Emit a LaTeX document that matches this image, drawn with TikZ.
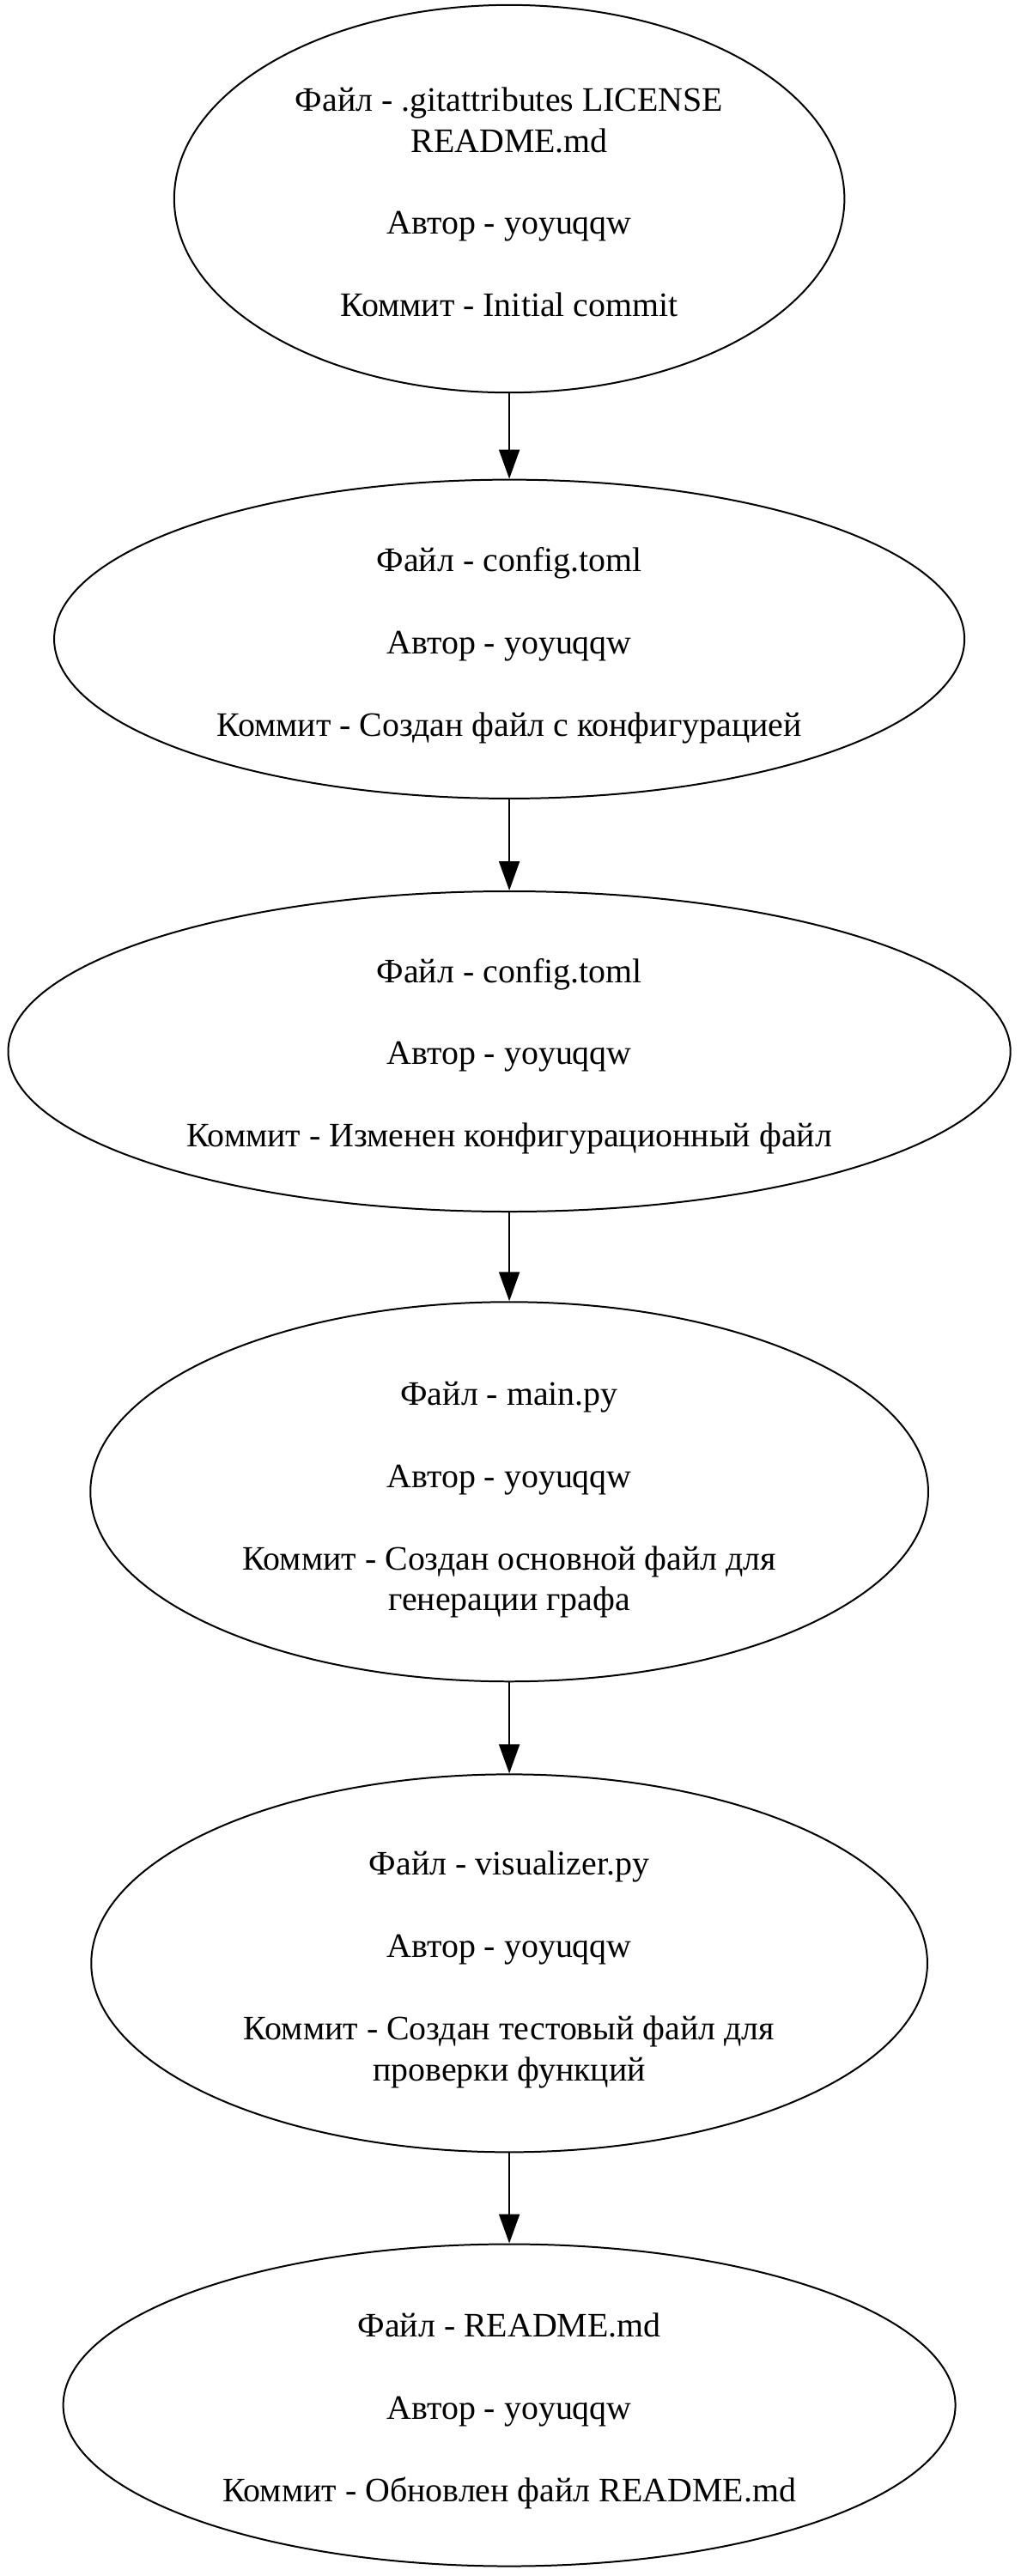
\documentclass[tikz,border=0pt]{standalone}
\usepackage{fontspec}
\setmainfont{Liberation Serif}
\usetikzlibrary{shapes.geometric,arrows.meta}

\tikzset{
	commit/.style={draw, ellipse, line width=0.7pt, inner sep=0pt},
	msg/.style={inner sep=0pt, align=center, font=\fontsize{14}{16.8}\selectfont},
	link/.style={line width=0.7pt, -{Triangle[length=11.9pt,width=8.4pt]}}
}

\begin{document}
\begin{tikzpicture}[x=0.6714pt, y=-0.6714pt]
		\useasboundingbox (0,0) rectangle (621,1568);
		% commits
		\node[commit, minimum width=273.9pt, minimum height=158.4pt] (c1) at (310,121) {};
		\node[commit, minimum width=372pt, minimum height=130.3pt] (c2) at (310,389) {};
		\node[commit, minimum width=409.6pt, minimum height=130.9pt] (c3) at (310,640) {};
		\node[commit, minimum width=342.4pt, minimum height=155.1pt] (c4) at (310,908) {};
		\node[commit, minimum width=341.7pt, minimum height=154.4pt] (c5) at (310,1195) {};
		\node[commit, minimum width=364.6pt, minimum height=131.6pt] (c6) at (310,1464) {};
		% texts
		\node[msg] (t1) at (310,123)
			{Файл - .gitattributes LICENSE\\README.md\\[16.8pt]Автор - yoyuqqw\\[16.8pt]Коммит - Initial commit};
		\node[msg] (t2) at (310,393)
			{Файл - config.toml\\[16.8pt]Автор - yoyuqqw\\[16.8pt]Коммит - Создан файл с конфигурацией};
		\node[msg] (t3) at (310,643)
			{Файл - config.toml\\[16.8pt]Автор - yoyuqqw\\[16.8pt]Коммит - Изменен конфигурационный файл};
		\node[msg] (t4) at (310,913)
			{Файл - main.py\\[16.8pt]Автор - yoyuqqw\\[16.8pt]Коммит - Создан основной файл для\\генерации графа};
		\node[msg] (t5) at (310,1199)
			{Файл - visualizer.py\\[16.8pt]Автор - yoyuqqw\\[16.8pt]Коммит - Создан тестовый файл для\\проверки функций};
		\node[msg] (t6) at (310,1467.5)
			{Файл - README.md\\[16.8pt]Автор - yoyuqqw\\[16.8pt]Коммит - Обновлен файл README.md};
		\foreach \a/\b in {c1/c2, c2/c3, c3/c4, c4/c5, c5/c6} {
			\draw[link] (\a) -- (\b);
		}
\end{tikzpicture}
\end{document}
